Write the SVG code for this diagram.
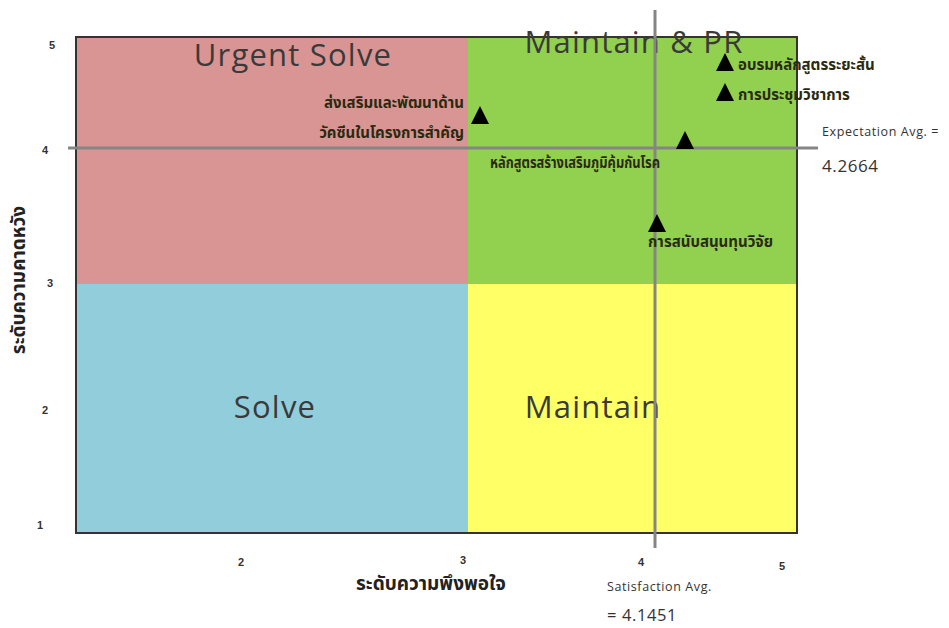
<svg xmlns="http://www.w3.org/2000/svg" width="949" height="628" viewBox="0 0 949 628">
<style>
.q{font-family:"Open Sans","Noto Sans",sans-serif;fill:#3a3a3a;font-size:31px;letter-spacing:1.2px;}
.th{font-family:"Noto Sans Thai","Noto Sans","DejaVu Sans",sans-serif;font-weight:bold;fill:#2a2a10;font-size:15px;}
.tick{font-family:"Liberation Sans",sans-serif;font-weight:bold;fill:#333;font-size:11px;}
.ax{font-family:"Noto Sans Thai","Noto Sans","DejaVu Sans",sans-serif;font-weight:bold;fill:#222;font-size:19px;}
.avg{font-family:"Open Sans","Noto Sans",sans-serif;fill:#333;letter-spacing:0.6px;}
.gl{stroke:#858585;stroke-width:3;fill:none;}
.tri{fill:#000;}
</style>
<rect width="949" height="628" fill="#fff"/>
<g id="quadrants">
<rect id="q-urgent" x="76" y="37" width="392" height="247" fill="#d99594"/>
<rect id="q-maintainpr" x="468" y="37" width="329" height="247" fill="#92d050"/>
<rect id="q-solve" x="76" y="284" width="392" height="249" fill="#92cddc"/>
<rect id="q-maintain" x="468" y="284" width="329" height="249" fill="#ffff66"/>
<rect x="76" y="37" width="721" height="496" fill="none" stroke="#333" stroke-width="2"/>
<text class="q" x="293" y="66" text-anchor="middle">Urgent Solve</text>
<text class="q" x="634" y="53" text-anchor="middle">Maintain &amp; PR</text>
<text class="q" x="275" y="418" text-anchor="middle">Solve</text>
<text class="q" x="593" y="418" text-anchor="middle">Maintain</text>
</g>
<g id="connectors">
<line class="gl" x1="655" y1="10" x2="655" y2="548"/>
<line class="gl" x1="68" y1="148" x2="818" y2="148"/>
</g>
<g id="ticks">
<text class="tick" x="52" y="49" text-anchor="middle">5</text>
<text class="tick" x="45" y="154" text-anchor="middle">4</text>
<text class="tick" x="50" y="287" text-anchor="middle">3</text>
<text class="tick" x="45" y="414" text-anchor="middle">2</text>
<text class="tick" x="40" y="529" text-anchor="middle">1</text>
<text class="tick" x="241" y="566" text-anchor="middle">2</text>
<text class="tick" x="463" y="564" text-anchor="middle">3</text>
<text class="tick" x="641" y="566" text-anchor="middle">4</text>
<text class="tick" x="782" y="570" text-anchor="middle">5</text>
</g>
<g id="axis-titles">
<text class="ax" transform="translate(25,280) rotate(-90)" text-anchor="middle">ระดับความคาดหวัง</text>
<text class="ax" x="431" y="590" text-anchor="middle">ระดับความพึงพอใจ</text>
</g>
<g id="avg-labels">
<text class="avg" x="822" y="136" font-size="12.5">Expectation Avg. =</text>
<text class="avg" x="822" y="172" font-size="17">4.2664</text>
<text class="avg" x="607" y="591" font-size="12.5">Satisfaction Avg.</text>
<text class="avg" x="607" y="621" font-size="16.5">= 4.1451</text>
</g>
<g id="p1">
<polygon class="tri" points="480,106 471,124 489,124"/>
<text class="th" x="464" y="108" text-anchor="end">ส่งเสริมและพัฒนาด้าน</text>
<text class="th" x="464" y="138" text-anchor="end">วัคซีนในโครงการสำคัญ</text>
</g>
<g id="p2">
<polygon class="tri" points="685,131 676,149 694,149"/>
<text class="th" x="490" y="168" textLength="170" lengthAdjust="spacingAndGlyphs">หลักสูตรสร้างเสริมภูมิคุ้มกันโรค</text>
</g>
<g id="p3">
<polygon class="tri" points="725,53 716,71 734,71"/>
<text class="th" x="738" y="70">อบรมหลักสูตรระยะสั้น</text>
</g>
<g id="p4">
<polygon class="tri" points="725,83 716,101 734,101"/>
<text class="th" x="738" y="100">การประชุมวิชาการ</text>
</g>
<g id="p5">
<polygon class="tri" points="657,214 648,232 666,232"/>
<text class="th" x="648" y="247">การสนับสนุนทุนวิจัย</text>
</g>
</svg>
